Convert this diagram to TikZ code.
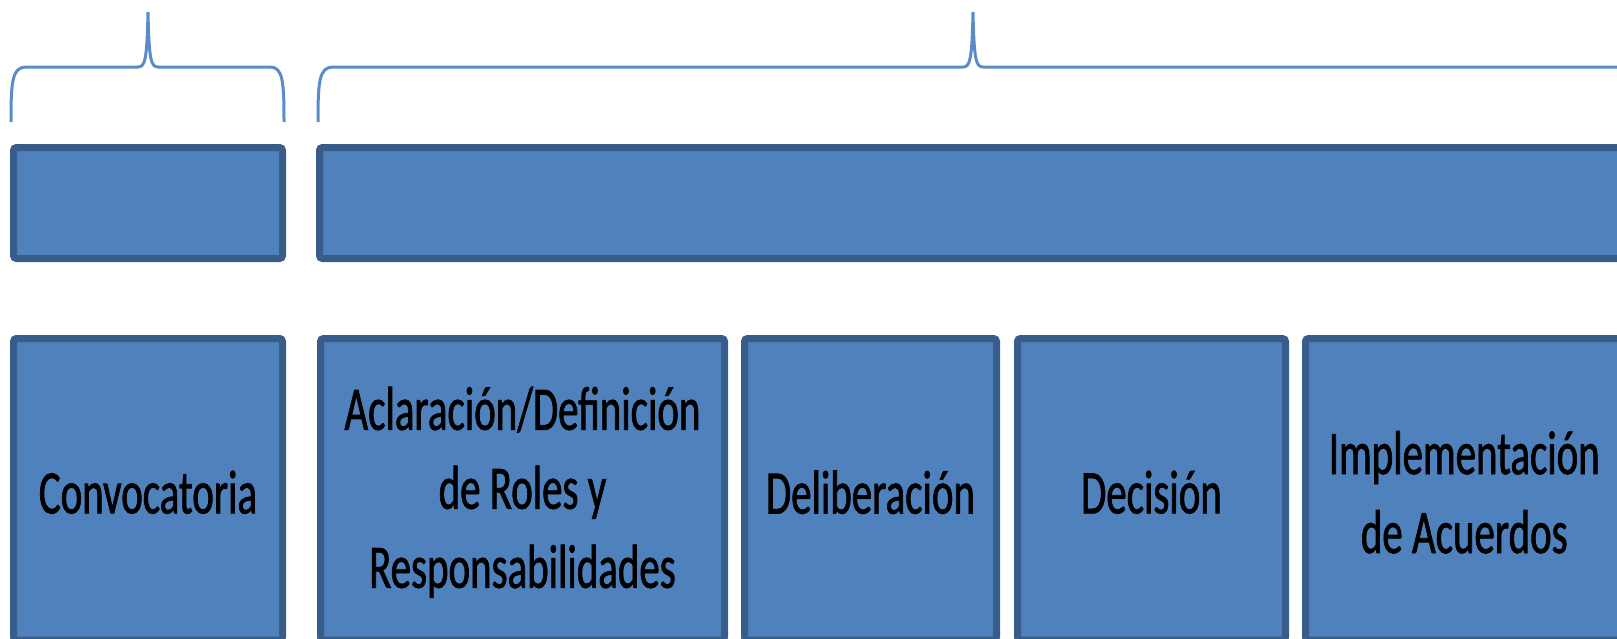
\documentclass[tikz,border=0pt]{standalone}
\usepackage{fontspec}
\newfontfamily\boxfont[FakeStretch=0.66,FakeBold=1.1]{Carlito}
\usetikzlibrary{fit}
\definecolor{boxfill}{HTML}{4F81BD}
\definecolor{boxline}{HTML}{385D8A}
\definecolor{bracecol}{HTML}{5B8CC8}
\tikzset{
  stagebox/.style={draw=boxline, fill=boxfill, line width=3.5pt, rounded corners=1.5pt,
    inner sep=0pt},
  stagetext/.style={align=center, yshift=-1.5pt, inner sep=0pt,
    font=\boxfont\fontsize{31}{39.5}\selectfont, text=black},
  bracepath/.style={draw=bracecol, line width=1.5pt}
}
\begin{document}
\begin{tikzpicture}[x=0.5pt,y=-0.5pt]
\useasboundingbox (0,0) rectangle (1617,638);
% braces
\draw[bracepath] (11,122) .. controls (11,82) and (12,67) .. (26,67) -- (138,67)
  .. controls (145,67) and (147,60) .. (148,12)
  .. controls (149,60) and (151,67) .. (158,67) -- (270,67)
  .. controls (283,67) and (284,82) .. (284,122);
\draw[bracepath] (318,122) .. controls (318,82) and (319,67) .. (333,67) -- (963,67)
  .. controls (970,67) and (972,60) .. (973,12)
  .. controls (974,60) and (976,67) .. (983,67) -- (1640,67);
% top bars
\node[stagebox, fit={(13.5,147.5) (282.5,258.5)}] (t1) {};
\node[stagebox, fit={(319.5,147.5) (1640,258.5)}] (t2) {};
% bottom boxes
\node[stagebox, fit={(13.5,338.5) (282.5,640)},
  label={[stagetext]center:Convocatoria}] (b1) {};
\node[stagebox, fit={(320.5,338.5) (724.5,640)},
  label={[stagetext]center:Aclaración/Definición\\de Roles y\\Responsabilidades}] (b2) {};
\node[stagebox, fit={(744.5,338.5) (996.5,640)},
  label={[stagetext]center:Deliberación}] (b3) {};
\node[stagebox, fit={(1017.5,338.5) (1285.5,640)},
  label={[stagetext]center:Decisión}] (b4) {};
\node[stagebox, fit={(1305.5,338.5) (1623,640)},
  label={[stagetext]center:Implementación\\de Acuerdos}] (b5) {};
\end{tikzpicture}
\end{document}
